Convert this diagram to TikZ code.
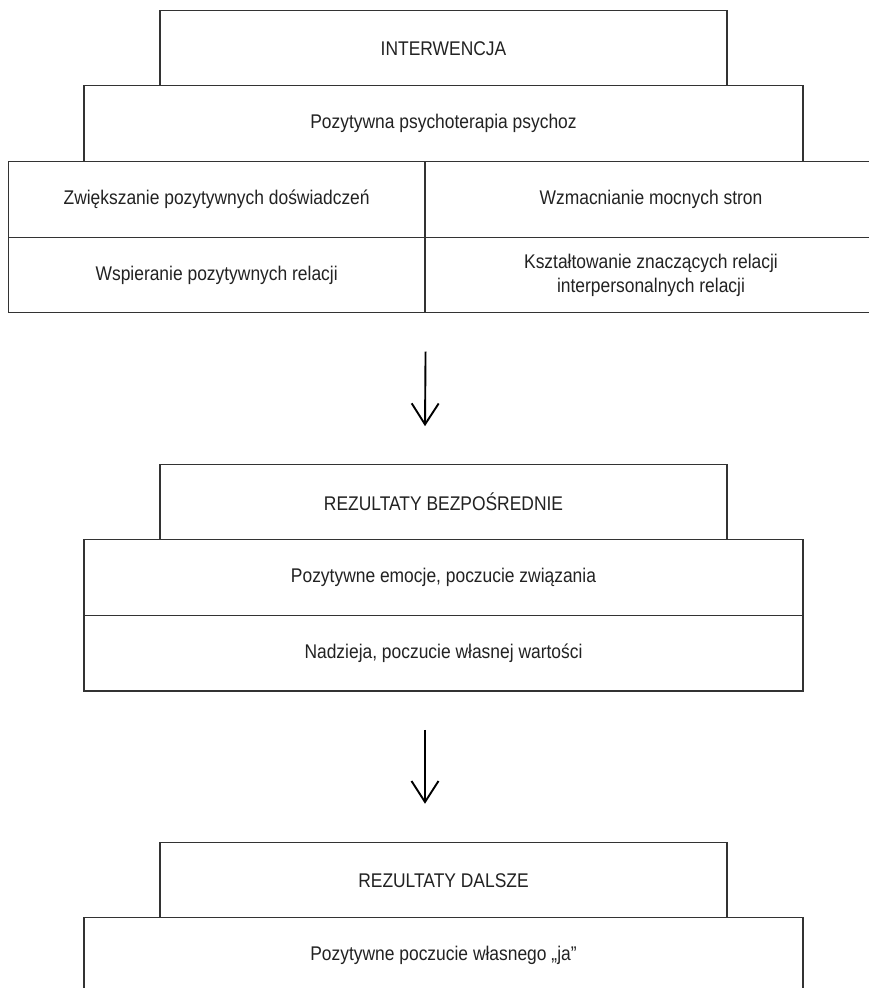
\documentclass[tikz,border=0pt]{standalone}
\usepackage{fontspec}
\setmainfont[FakeStretch=0.88]{Liberation Sans}
\usetikzlibrary{arrows.meta,calc}
\definecolor{linec}{HTML}{333333}
\definecolor{textc}{HTML}{222222}
\tikzset{
  boxnode/.style={draw=linec, line width=1.1pt, rectangle, inner sep=0pt, align=center,
    text=textc, font=\fontsize{19.8}{24.3}\selectfont},
  flowarrow/.style={draw=black, line width=1.9pt, -{Straight Barb[length=21pt,width=27pt,line width=1.9pt]}}
}
\newcommand{\boxat}[7]{% name, x1, y1, x2, y2, text
  \node[boxnode, minimum width={#4-#2}, minimum height={#5-#3}] (#1) at ({(#2+#4)/2},{-(#3+#5)/2}) {#6#7};}
\begin{document}
\begin{tikzpicture}[x=1pt,y=1pt]
\useasboundingbox (0,0) rectangle (868,-988);
\fill[white] (0,0) rectangle (868,-988);
% top block
\boxat{int}{160}{10.7}{727}{85.7}{INTERWENCJA}{}
\boxat{ppp}{84}{85.7}{803}{161.7}{Pozytywna psychoterapia psychoz}{}
\boxat{c1}{8.3}{161.7}{425}{237.7}{Zwiększanie pozytywnych doświadczeń}{}
\boxat{c2}{425}{161.7}{877}{237.7}{Wzmacnianie mocnych stron}{}
\boxat{c3}{8.3}{237.7}{425}{312.7}{Wspieranie pozytywnych relacji}{}
\boxat{c4}{425}{237.7}{877}{312.7}{Kształtowanie znaczących relacji\\interpersonalnych relacji}{}
% middle block
\boxat{rb}{160}{464.3}{727}{539.3}{REZULTATY BEZPOŚREDNIE}{}
\boxat{b2}{84}{539.3}{803}{615.7}{Pozytywne emocje, poczucie związania}{}
\boxat{b3}{84}{615.7}{803}{691}{Nadzieja, poczucie własnej wartości}{}
% bottom block
\boxat{rd}{160}{842.7}{727}{917.7}{REZULTATY DALSZE}{}
\node[draw=linec, line width=1.1pt, rectangle, inner sep=0pt, minimum width=719pt, minimum height=76pt] (b4) at (443.5,-955.7) {};
\node[text=textc, font=\fontsize{19.8}{24.3}\selectfont] (b4t) at (443.5,-955) {Pozytywne poczucie własnego „ja”};
% arrows
\draw[flowarrow] ($(c3.south east)+(0,-38.3)$) -- ($(rb.north)+(-18.5,37.6)$);
\draw[flowarrow] ($(b3.south)+(-18.5,-38.3)$) -- ($(rd.north)+(-18.5,38.4)$);
\end{tikzpicture}
\end{document}
